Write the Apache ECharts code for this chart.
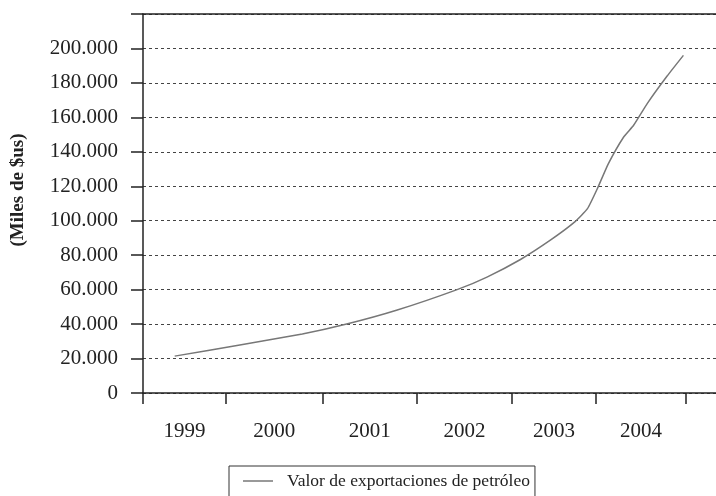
<!DOCTYPE html>
<html>
<head>
<meta charset="utf-8">
<script src="https://cdn.jsdelivr.net/npm/echarts@6/dist/echarts.min.js"></script>
<style>
html,body{margin:0;padding:0;background:#fff;}
#chart{width:716px;height:496px;}
</style>
</head>
<body>
<div id="chart"></div>
<script>
// datos
var years = ['1999', '2000', '2001', '2002', '2003', '2004'];
// limites de cada año sobre el eje (irregulares en el original)
var yearTicks = [1999, 1999.915, 2000.987, 2002.025, 2003.077, 2004.004, 2005];
var exportX = [1999.35, 2000.07, 2000.76, 2001.25, 2001.80, 2002.47, 2002.80, 2003.17, 2003.50,
               2003.77, 2003.91, 2004.02, 2004.14, 2004.31, 2004.42, 2004.57, 2004.79, 2004.97];
var exportVal = [21400, 27900, 34200, 40000, 48000, 60000, 67300, 77500, 88700,
                 99300, 107000, 118700, 133000, 148600, 155400, 168000, 184000, 196000];
var serieName = 'Valor de exportaciones de petróleo';

var labelPos = [];
for (var i = 0; i < years.length; i++) {
	labelPos.push((yearTicks[i] + yearTicks[i + 1]) / 2);
}
var points = [];
for (var j = 0; j < exportX.length; j++) {
	points.push([exportX[j], exportVal[j]]);
}

var font = 'Liberation Serif';
var myChart = echarts.init(document.getElementById('chart'));

var option = {
	animation: false,
	grid: {left: 143, right: 0, top: 14, bottom: 103},
	legend: {
		left: 229,
		top: 466,
		padding: [6, 5, 30, 14],
		borderColor: '#333',
		borderWidth: 1,
		itemWidth: 30,
		itemHeight: 1.5,
		textStyle: {fontFamily: font, fontSize: 17.5, color: '#222', padding: [0, 0, 0, 9]},
		data: [{name: serieName, icon: 'rect'}]
	},
	graphic: [{
		type: 'text',
		x: 18,
		y: 190,
		rotation: Math.PI / 2,
		style: {
			text: '(Miles de $us)',
			font: 'bold 19px "Liberation Serif"',
			fill: '#222',
			align: 'center',
			verticalAlign: 'middle'
		}
	}],
	xAxis: [{
		type: 'value',
		min: 1999,
		max: 2005.33,
		axisLine: {show: true, onZero: false, lineStyle: {color: '#222', width: 1.5}},
		axisTick: {show: true, length: 11, customValues: yearTicks, lineStyle: {color: '#222', width: 1.5}},
		axisLabel: {
			margin: 28,
			fontFamily: font,
			fontSize: 21,
			color: '#222',
			customValues: labelPos,
			formatter: function (v) {
				var best = 0;
				for (var k = 1; k < labelPos.length; k++) {
					if (Math.abs(labelPos[k] - v) < Math.abs(labelPos[best] - v)) best = k;
				}
				return years[best];
			}
		},
		splitLine: {show: false}
	}, {
		// linea superior del marco
		type: 'value',
		position: 'top',
		min: 1999,
		max: 2005.33,
		axisLine: {show: true, onZero: false, lineStyle: {color: '#222', width: 1.5}},
		axisTick: {show: false},
		axisLabel: {show: false},
		splitLine: {show: false}
	}],
	yAxis: {
		type: 'value',
		min: 0,
		max: 220000,
		interval: 20000,
		axisLine: {show: true, lineStyle: {color: '#222', width: 1.5}},
		axisTick: {show: true, length: 12, lineStyle: {color: '#222', width: 1.5}},
		axisLabel: {
			margin: 25,
			fontFamily: font,
			fontSize: 21,
			color: '#222',
			formatter: function (v) {
				if (v === 0) return '0';
				if (v >= 220000) return '';
				return (v / 1000) + '.000';
			}
		},
		splitLine: {
			show: true,
			interval: function (idx, v) { return v < 220000; },
			lineStyle: {color: '#444', type: [3, 3], width: 1}
		}
	},
	series: [{
		name: serieName,
		type: 'line',
		symbol: 'none',
		smooth: 0.15,
		lineStyle: {color: '#777', width: 1.5},
		itemStyle: {color: '#777'},
		data: points
	}]
};
myChart.setOption(option);
</script>
</body>
</html>
